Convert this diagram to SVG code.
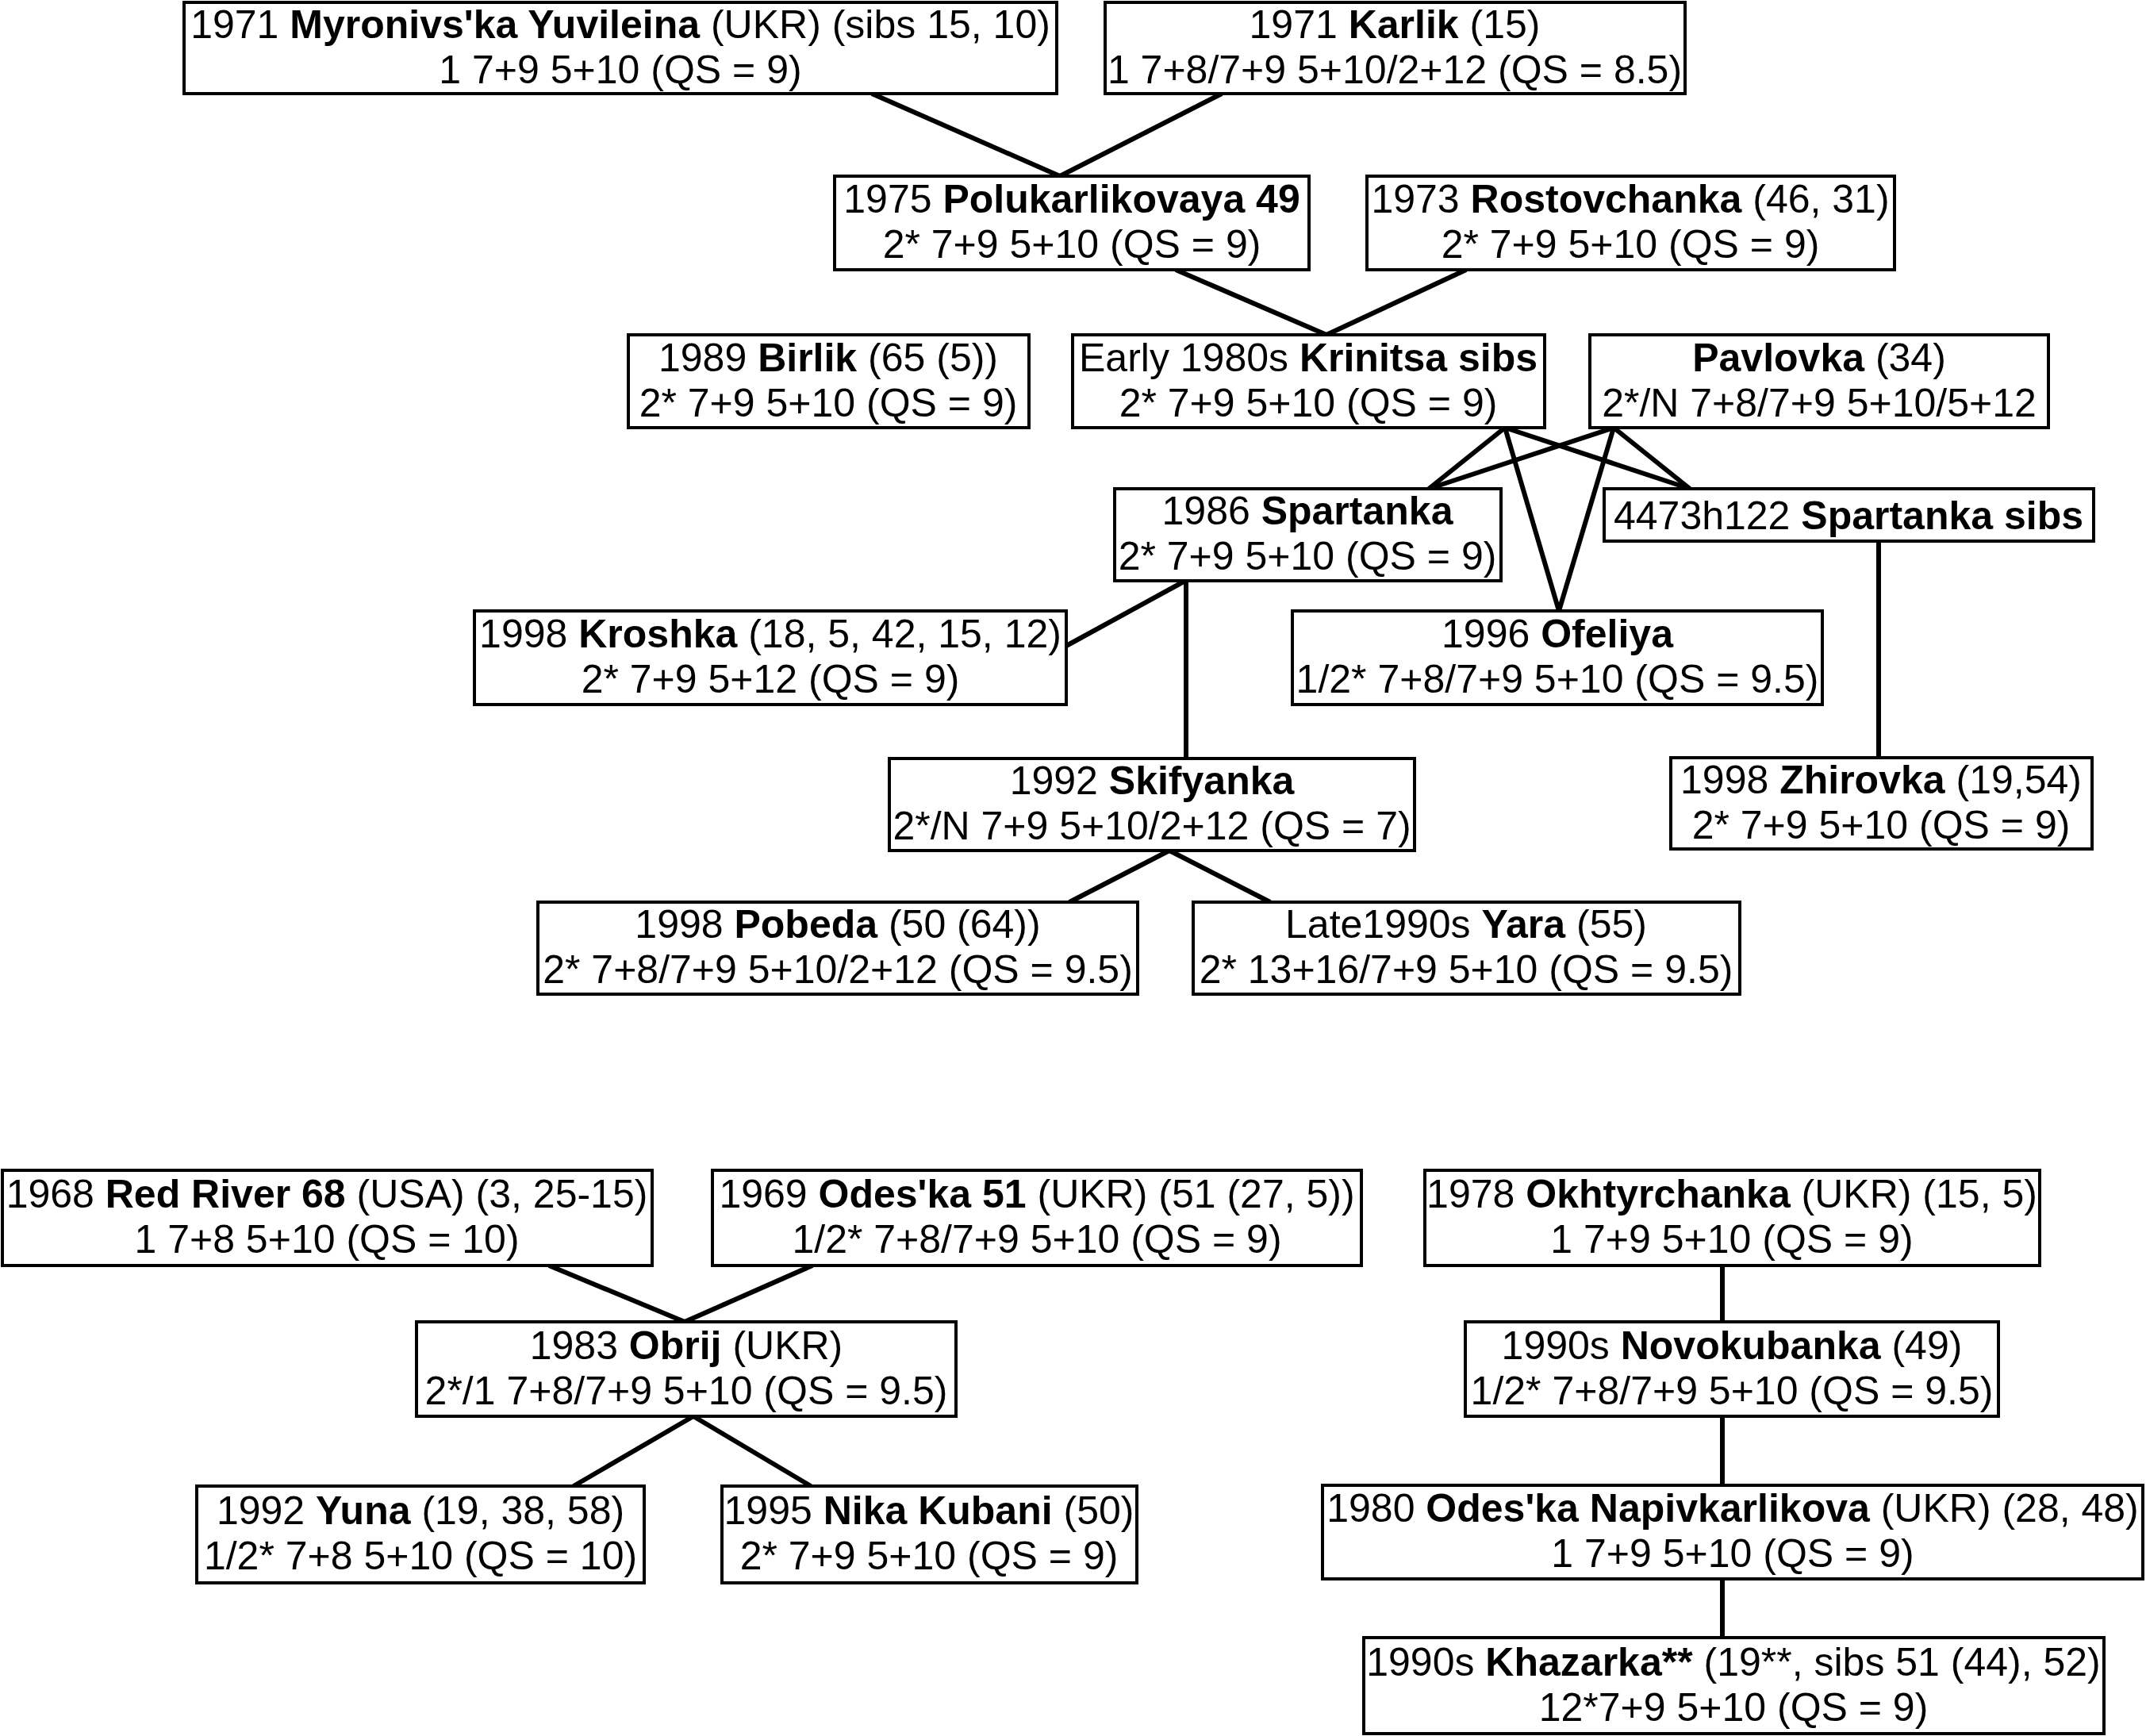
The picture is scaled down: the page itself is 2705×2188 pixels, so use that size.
<svg xmlns="http://www.w3.org/2000/svg" width="2705" height="2188" viewBox="0 0 2705 2188">
<style>
.bg{fill:#fff}
.box{fill:#fff;stroke:#000;stroke-width:4}
.t{font-family:"Liberation Sans",Arial,Helvetica,sans-serif;font-size:50px;text-anchor:middle;fill:#000}
.b{font-weight:bold}
.e{stroke:#000;stroke-width:6;fill:none}
</style>
<rect class="bg" x="0" y="0" width="2705" height="2188"/>
<g id="connectors">
<line class="e" x1="1099" y1="118" x2="1336" y2="222"/>
<line class="e" x1="1540" y1="118" x2="1336" y2="222"/>
<line class="e" x1="1482" y1="340" x2="1672" y2="422"/>
<line class="e" x1="1848" y1="340" x2="1672" y2="422"/>
<line class="e" x1="1897" y1="539" x2="1801" y2="616"/>
<line class="e" x1="1897" y1="539" x2="1965" y2="770"/>
<line class="e" x1="1897" y1="539" x2="2130" y2="616"/>
<line class="e" x1="2034" y1="539" x2="1801" y2="616"/>
<line class="e" x1="2034" y1="539" x2="1965" y2="770"/>
<line class="e" x1="2034" y1="539" x2="2130" y2="616"/>
<line class="e" x1="1494" y1="732" x2="1344" y2="814"/>
<line class="e" x1="1495" y1="732" x2="1495" y2="956"/>
<line class="e" x1="2368" y1="682" x2="2368" y2="955"/>
<line class="e" x1="1474" y1="1072" x2="1348" y2="1137"/>
<line class="e" x1="1474" y1="1072" x2="1601" y2="1137"/>
<line class="e" x1="692" y1="1595" x2="863" y2="1666"/>
<line class="e" x1="1024" y1="1595" x2="863" y2="1666"/>
<line class="e" x1="874" y1="1785" x2="723" y2="1873"/>
<line class="e" x1="874" y1="1785" x2="1022" y2="1873"/>
<line class="e" x1="2171" y1="1595" x2="2171" y2="1666"/>
<line class="e" x1="2171" y1="1785" x2="2171" y2="1872"/>
<line class="e" x1="2171" y1="1990" x2="2171" y2="2064"/>
</g>
<g id="n1"><rect class="box" x="232" y="3" width="1100" height="115"/>
<text class="t" x="782" y="47.5">1971 <tspan class="b">Myronivs'ka Yuvileina</tspan> (UKR) (sibs 15, 10)</text>
<text class="t" x="782" y="104.5">1 7+9 5+10 (QS = 9)</text></g>
<g id="n2"><rect class="box" x="1393" y="3" width="731" height="115"/>
<text class="t" x="1758" y="47.5">1971 <tspan class="b">Karlik</tspan> (15)</text>
<text class="t" x="1758" y="104.5">1 7+8/7+9 5+10/2+12 (QS = 8.5)</text></g>
<g id="n3"><rect class="box" x="1052" y="222" width="598" height="118"/>
<text class="t" x="1351" y="268">1975 <tspan class="b">Polukarlikovaya 49</tspan></text>
<text class="t" x="1351" y="325">2* 7+9 5+10 (QS = 9)</text></g>
<g id="n4"><rect class="box" x="1723" y="222" width="665" height="118"/>
<text class="t" x="2055" y="268">1973 <tspan class="b">Rostovchanka</tspan> (46, 31)</text>
<text class="t" x="2055" y="325">2* 7+9 5+10 (QS = 9)</text></g>
<g id="n5"><rect class="box" x="792" y="422" width="505" height="117"/>
<text class="t" x="1044" y="467.5">1989 <tspan class="b">Birlik</tspan> (65 (5))</text>
<text class="t" x="1044" y="524.5">2* 7+9 5+10 (QS = 9)</text></g>
<g id="n6"><rect class="box" x="1352" y="422" width="595" height="117"/>
<text class="t" x="1649" y="467.5">Early 1980s <tspan class="b">Krinitsa sibs</tspan></text>
<text class="t" x="1649" y="524.5">2* 7+9 5+10 (QS = 9)</text></g>
<g id="n7"><rect class="box" x="2004" y="422" width="578" height="117"/>
<text class="t" x="2293" y="467.5"><tspan class="b">Pavlovka</tspan> (34)</text>
<text class="t" x="2293" y="524.5">2*/N 7+8/7+9 5+10/5+12</text></g>
<g id="n8"><rect class="box" x="1405" y="616" width="487" height="116"/>
<text class="t" x="1648" y="661">1986 <tspan class="b">Spartanka</tspan></text>
<text class="t" x="1648" y="718">2* 7+9 5+10 (QS = 9)</text></g>
<g id="n9"><rect class="box" x="2022" y="616" width="617" height="66"/>
<text class="t" x="2330" y="667">4473h122 <tspan class="b">Spartanka sibs</tspan></text></g>
<g id="n10"><rect class="box" x="598" y="770" width="746" height="118"/>
<text class="t" x="971" y="816">1998 <tspan class="b">Kroshka</tspan> (18, 5, 42, 15, 12)</text>
<text class="t" x="971" y="873">2* 7+9 5+12 (QS = 9)</text></g>
<g id="n11"><rect class="box" x="1629" y="770" width="668" height="118"/>
<text class="t" x="1963" y="816">1996 <tspan class="b">Ofeliya</tspan></text>
<text class="t" x="1963" y="873">1/2* 7+8/7+9 5+10 (QS = 9.5)</text></g>
<g id="n12"><rect class="box" x="1121" y="956" width="662" height="116"/>
<text class="t" x="1452" y="1001">1992 <tspan class="b">Skifyanka</tspan></text>
<text class="t" x="1452" y="1058">2*/N 7+9 5+10/2+12 (QS = 7)</text></g>
<g id="n13"><rect class="box" x="2106" y="955" width="531" height="115"/>
<text class="t" x="2371" y="999.5">1998 <tspan class="b">Zhirovka</tspan> (19,54)</text>
<text class="t" x="2371" y="1056.5">2* 7+9 5+10 (QS = 9)</text></g>
<g id="n14"><rect class="box" x="678" y="1137" width="756" height="116"/>
<text class="t" x="1056" y="1182">1998 <tspan class="b">Pobeda</tspan> (50 (64))</text>
<text class="t" x="1056" y="1239">2* 7+8/7+9 5+10/2+12 (QS = 9.5)</text></g>
<g id="n15"><rect class="box" x="1504" y="1137" width="689" height="116"/>
<text class="t" x="1848" y="1182">Late1990s <tspan class="b">Yara</tspan> (55)</text>
<text class="t" x="1848" y="1239">2* 13+16/7+9 5+10 (QS = 9.5)</text></g>
<g id="n16"><rect class="box" x="3" y="1475" width="819" height="120"/>
<text class="t" x="412" y="1522">1968 <tspan class="b">Red River 68</tspan> (USA) (3, 25-15)</text>
<text class="t" x="412" y="1579">1 7+8 5+10 (QS = 10)</text></g>
<g id="n17"><rect class="box" x="898" y="1475" width="818" height="120"/>
<text class="t" x="1307" y="1522">1969 <tspan class="b">Odes'ka 51</tspan> (UKR) (51 (27, 5))</text>
<text class="t" x="1307" y="1579">1/2* 7+8/7+9 5+10 (QS = 9)</text></g>
<g id="n18"><rect class="box" x="1796" y="1475" width="775" height="120"/>
<text class="t" x="2183" y="1522">1978 <tspan class="b">Okhtyrchanka</tspan> (UKR) (15, 5)</text>
<text class="t" x="2183" y="1579">1 7+9 5+10 (QS = 9)</text></g>
<g id="n19"><rect class="box" x="525" y="1666" width="680" height="119"/>
<text class="t" x="865" y="1712.5">1983 <tspan class="b">Obrij</tspan> (UKR)</text>
<text class="t" x="865" y="1769.5">2*/1 7+8/7+9 5+10 (QS = 9.5)</text></g>
<g id="n20"><rect class="box" x="1847" y="1666" width="672" height="119"/>
<text class="t" x="2183" y="1712.5">1990s <tspan class="b">Novokubanka</tspan> (49)</text>
<text class="t" x="2183" y="1769.5">1/2* 7+8/7+9 5+10 (QS = 9.5)</text></g>
<g id="n21"><rect class="box" x="248" y="1873" width="564" height="122"/>
<text class="t" x="530" y="1921">1992 <tspan class="b">Yuna</tspan> (19, 38, 58)</text>
<text class="t" x="530" y="1978">1/2* 7+8 5+10 (QS = 10)</text></g>
<g id="n22"><rect class="box" x="910" y="1873" width="523" height="122"/>
<text class="t" x="1171" y="1921">1995 <tspan class="b">Nika Kubani</tspan> (50)</text>
<text class="t" x="1171" y="1978">2* 7+9 5+10 (QS = 9)</text></g>
<g id="n23"><rect class="box" x="1667" y="1872" width="1034" height="118"/>
<text class="t" x="2184" y="1918">1980 <tspan class="b">Odes'ka Napivkarlikova</tspan> (UKR) (28, 48)</text>
<text class="t" x="2184" y="1975">1 7+9 5+10 (QS = 9)</text></g>
<g id="n24"><rect class="box" x="1719" y="2064" width="933" height="121"/>
<text class="t" x="2185" y="2111.5">1990s <tspan class="b">Khazarka**</tspan> (19**, sibs 51 (44), 52)</text>
<text class="t" x="2185" y="2168.5">12*7+9 5+10 (QS = 9)</text></g>
</svg>
